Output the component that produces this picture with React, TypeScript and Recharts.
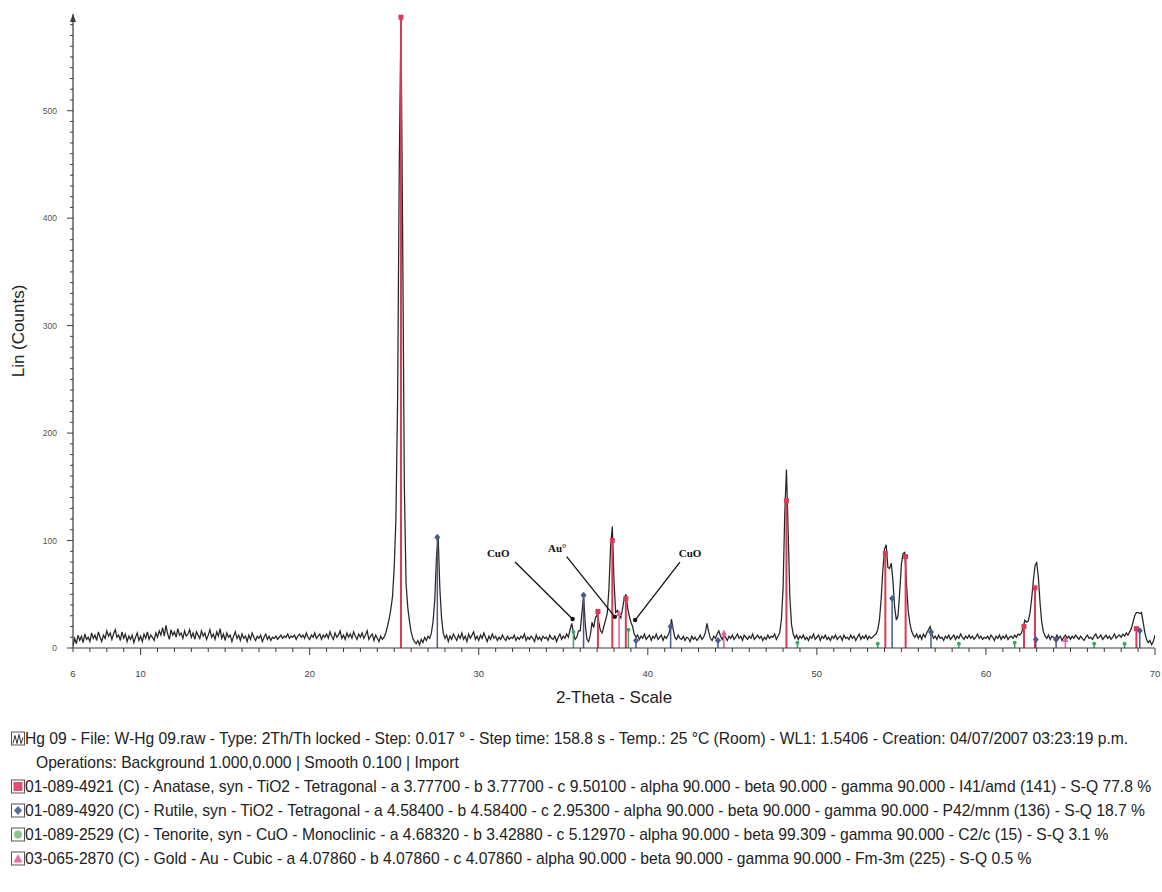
import React from 'react';
import { ComposedChart, Line, Scatter, XAxis, YAxis, ReferenceLine, ReferenceDot } from 'recharts';

// ---- measured scan (counts every 0.1 deg 2-theta) ----
const SCAN_STEP = 0.1;
const counts06to15 = [
  2, 9, 4, 12, 7, 11, 5, 13, 8, 10,
  6, 14, 9, 12, 7, 15, 10, 6, 12, 9,
  16, 11, 14, 8, 13, 17, 10, 12, 7, 15,
  9, 13, 6, 11, 8, 12, 5, 10, 14, 7,
  11, 6, 13, 9, 15, 8, 12, 10, 7, 14,
  10, 16, 12, 19, 11, 21, 13, 8, 17, 12,
  15, 10, 18, 12, 14, 9, 16, 11, 13, 17,
  10, 14, 8, 15, 12, 9, 16, 11, 14, 8,
  12, 17, 10, 13, 8, 15, 11, 18, 9, 13,
  7, 14, 10, 12, 6, 11, 15, 9, 12, 7,
];
const counts16to25 = [
  13, 9, 11, 6, 12, 8, 14, 10, 7, 11,
  9, 12, 6, 10, 13, 8, 11, 7, 10, 9,
  11, 8, 10, 12, 9, 11, 10, 13, 9, 11,
  10, 12, 8, 11, 13, 10, 12, 9, 14, 10,
  8, 12, 10, 14, 9, 11, 13, 8, 12, 10,
  13, 9, 15, 11, 8, 14, 10, 12, 16, 9,
  12, 8, 14, 10, 13, 9, 15, 11, 8, 13,
  10, 14, 9, 12, 16, 8, 11, 13, 7, 12,
  9, 6, 11, 8, 10, 14, 20, 27, 36, 48,
  75, 120, 230, 450, 587, 380, 150, 60, 38, 25,
];
const counts26to35 = [
  15, 9, 6, 4, 7, 3, 8, 5, 10, 7,
  11, 9, 14, 25, 45, 85, 103, 55, 28, 14,
  9, 12, 6, 11, 8, 13, 10, 7, 12, 9,
  14, 8, 11, 6, 13, 9, 12, 15, 8, 11,
  7, 12, 9, 14, 10, 6, 11, 8, 13, 9,
  11, 7, 10, 8, 12, 9, 7, 11, 8, 10,
  9, 12, 7, 10, 8, 11, 9, 13, 7, 10,
  8, 11, 9, 6, 12, 8, 10, 7, 11, 9,
  10, 7, 12, 9, 8, 11, 6, 10, 13, 8,
  11, 9, 13, 10, 17, 23, 14, 8, 10, 16,
];
const counts36to45 = [
  16, 32, 49, 22, 8, 6, 12, 24, 19, 28,
  31, 24, 16, 14, 20, 26, 32, 55, 95, 113,
  62, 33, 35, 31, 28, 36, 46, 50, 38, 30,
  24, 20, 13, 10, 12, 8, 11, 9, 13, 8,
  10, 12, 7, 11, 9, 13, 8, 10, 12, 7,
  11, 9, 12, 16, 27, 17, 10, 8, 12, 9,
  8, 11, 7, 10, 9, 6, 11, 8, 10, 7,
  9, 12, 8, 10, 14, 23, 15, 9, 7, 11,
  9, 13, 16, 11, 8, 12, 10, 7, 11, 9,
  12, 8, 10, 13, 9, 11, 7, 12, 10, 8,
];
const counts46to55 = [
  11, 9, 13, 8, 10, 12, 9, 11, 7, 10,
  8, 12, 9, 11, 10, 13, 8, 11, 14, 26,
  55, 125, 166, 110, 48, 22, 13, 9, 12, 8,
  11, 9, 12, 8, 10, 7, 11, 9, 13, 8,
  10, 12, 7, 11, 9, 12, 8, 10, 7, 11,
  9, 12, 8, 10, 11, 7, 12, 9, 10, 8,
  12, 9, 11, 7, 10, 13, 8, 11, 9, 12,
  8, 11, 9, 10, 12, 13, 17, 26, 45, 72,
  92, 96, 75, 74, 79, 62, 38, 26, 30, 52,
  78, 88, 89, 60, 35, 23, 16, 12, 10, 13,
];
const counts56to65 = [
  9, 12, 8, 13, 10, 14, 17, 20, 13, 9,
  11, 8, 12, 9, 10, 7, 11, 9, 12, 8,
  10, 12, 8, 11, 9, 13, 10, 8, 11, 9,
  12, 9, 11, 8, 10, 13, 9, 11, 8, 10,
  9, 11, 8, 12, 10, 7, 11, 9, 12, 8,
  11, 9, 12, 8, 10, 11, 9, 12, 10, 13,
  12, 14, 19, 26, 24, 25, 32, 45, 62, 76,
  80, 66, 42, 24, 15, 11, 9, 12, 8, 11,
  10, 8, 12, 9, 11, 7, 10, 12, 9, 11,
  8, 11, 9, 12, 10, 8, 11, 9, 7, 10,
];
const counts66to70 = [
  12, 9, 10, 8, 11, 13, 9, 10, 12, 8,
  10, 12, 9, 11, 8, 10, 13, 9, 11, 12,
  10, 13, 11, 14, 12, 15, 18, 24, 30, 33,
  33, 32, 33, 24, 14, 8, 5, 7, 3, 6,
  12,
];
const scanSegments = [
  { start: 6, counts: counts06to15 },
  { start: 16, counts: counts16to25 },
  { start: 26, counts: counts26to35 },
  { start: 36, counts: counts36to45 },
  { start: 46, counts: counts46to55 },
  { start: 56, counts: counts56to65 },
  { start: 66, counts: counts66to70 },
];
const scanData = scanSegments.flatMap((s) =>
  s.counts.map((c, i) => ({ theta: Math.round((s.start + i * SCAN_STEP) * 100) / 100, counts: c }))
);

// ---- reference patterns (stick positions and heights) ----
const anatasePeaks = [
  { theta: 25.4, counts: 587 }, { theta: 37.05, counts: 34 }, { theta: 37.9, counts: 100 },
  { theta: 38.7, counts: 46 }, { theta: 48.2, counts: 137 }, { theta: 54.05, counts: 88 },
  { theta: 55.25, counts: 85 }, { theta: 62.25, counts: 20 }, { theta: 62.9, counts: 56 },
  { theta: 68.9, counts: 18 },
];
const rutilePeaks = [
  { theta: 27.55, counts: 103 }, { theta: 36.2, counts: 49 }, { theta: 39.3, counts: 7 },
  { theta: 41.35, counts: 20 }, { theta: 44.15, counts: 7 }, { theta: 54.45, counts: 46 },
  { theta: 56.75, counts: 15 }, { theta: 62.95, counts: 8 }, { theta: 64.15, counts: 8 },
  { theta: 69.1, counts: 16 },
];
const tenoritePeaks = [
  { theta: 35.6, counts: 15 }, { theta: 38.85, counts: 17 }, { theta: 48.85, counts: 5 },
  { theta: 53.6, counts: 4 }, { theta: 58.4, counts: 4 }, { theta: 61.7, counts: 5 },
  { theta: 66.4, counts: 4 }, { theta: 68.2, counts: 4 },
];
const goldPeaks = [
  { theta: 38.3, counts: 32 }, { theta: 44.5, counts: 14 }, { theta: 64.7, counts: 8 },
];

// ---- annotations ----
const annotationLabels = [
  { text: 'CuO', theta: 31.15, counts: 88 },
  { text: 'Au°', theta: 34.64, counts: 93 },
  { text: 'CuO', theta: 42.5, counts: 88 },
];
const annotationArrows = [
  { from: { x: 32.15, y: 80 }, to: { x: 35.55, y: 27 } },
  { from: { x: 35.2, y: 85 }, to: { x: 38.05, y: 29 } },
  { from: { x: 41.9, y: 80 }, to: { x: 39.25, y: 26 } },
];

// ---- axes ----
const xTickLabels = [6, 10, 20, 30, 40, 50, 60, 70];
const xTicks = Array.from({ length: 65 }, (_, i) => 6 + i);
const yTickLabels = [0, 100, 200, 300, 400, 500];
const yTicks = Array.from({ length: 59 }, (_, i) => i * 10);

// ---- legend text ----
const legendTexts = [
  'Hg 09 - File: W-Hg 09.raw - Type: 2Th/Th locked - Step: 0.017 ° - Step time: 158.8 s - Temp.: 25 °C (Room) - WL1: 1.5406 - Creation: 04/07/2007 03:23:19 p.m.',
  'Operations: Background 1.000,0.000 | Smooth 0.100 | Import',
  '01-089-4921 (C) - Anatase, syn - TiO2 - Tetragonal - a 3.77700 - b 3.77700 - c 9.50100 - alpha 90.000 - beta 90.000 - gamma 90.000 - I41/amd (141) - S-Q 77.8 %',
  '01-089-4920 (C) - Rutile, syn - TiO2 - Tetragonal - a 4.58400 - b 4.58400 - c 2.95300 - alpha 90.000 - beta 90.000 - gamma 90.000 - P42/mnm (136) - S-Q 18.7 %',
  '01-089-2529 (C) - Tenorite, syn - CuO - Monoclinic - a 4.68320 - b 3.42880 - c 5.12970 - alpha 90.000 - beta 99.309 - gamma 90.000 - C2/c (15) - S-Q 3.1 %',
  '03-065-2870 (C) - Gold - Au - Cubic - a 4.07860 - b 4.07860 - c 4.07860 - alpha 90.000 - beta 90.000 - gamma 90.000 - Fm-3m (225) - S-Q 0.5 %',
];
const legendIcons = ['scan', 'none', 'anatase', 'rutile', 'tenorite', 'gold'];
const legendX = [25, 36, 25, 25, 25, 25];

const FONT = "'Liberation Sans', Arial, Helvetica, sans-serif";
const COLORS = {
  scan: '#262626',
  anatase: '#d93a55',
  rutile: '#4a5a90',
  tenorite: '#3fa66b',
  gold: '#e5609a',
  axis: '#3a3a3a',
};

const XTick = (props: any) => {
  const { x, y, payload } = props;
  const v = payload.value;
  const major = v % 10 === 0;
  return (
    <g>
      <line x1={x} y1={y} x2={x} y2={y + (major ? 7 : 4)} stroke={COLORS.axis} strokeWidth={1} />
      {xTickLabels.includes(v) && (
        <text x={x} y={y + 29} textAnchor="middle" fontSize={9.5} fill="#444" fontFamily={FONT}>
          {v}
        </text>
      )}
    </g>
  );
};

const YTick = (props: any) => {
  const { x, y, payload } = props;
  const v = payload.value;
  const major = v % 100 === 0;
  return (
    <g>
      <line x1={x} y1={y} x2={x - (major ? 6 : 3)} y2={y} stroke={COLORS.axis} strokeWidth={1} />
      {yTickLabels.includes(v) && (
        <text x={x - 16} y={y + 3} textAnchor="end" fontSize={8.5} fill="#555" fontFamily={FONT}>
          {v}
        </text>
      )}
    </g>
  );
};

const makeMarker = (kind: string) => (p: any) => {
  const { cx, cy } = p;
  if (cx == null || cy == null) return <g />;
  if (kind === 'anatase') {
    return <rect x={cx - 2.5} y={cy - 2.5} width={5} height={5} fill={COLORS.anatase} />;
  }
  if (kind === 'rutile') {
    return <path d={`M${cx},${cy - 3.5} L${cx + 3},${cy} L${cx},${cy + 3.5} L${cx - 3},${cy} Z`} fill={COLORS.rutile} />;
  }
  if (kind === 'tenorite') {
    return <circle cx={cx} cy={cy} r={2} fill={COLORS.tenorite} />;
  }
  return <path d={`M${cx},${cy - 3.5} L${cx + 3},${cy + 2.5} L${cx - 3},${cy + 2.5} Z`} fill={COLORS.gold} />;
};

const phases = [
  { key: 'anatase', peaks: anatasePeaks, color: COLORS.anatase, width: 2 },
  { key: 'rutile', peaks: rutilePeaks, color: COLORS.rutile, width: 1.5 },
  { key: 'tenorite', peaks: tenoritePeaks, color: COLORS.tenorite, width: 1.5 },
  { key: 'gold', peaks: goldPeaks, color: COLORS.gold, width: 1.5 },
];

const LegendIcon = ({ kind, y }: { kind: string; y: number }) => {
  if (kind === 'none') return null;
  const x0 = 11;
  const s = 13;
  const y0 = y - s / 2;
  const frame = <rect x={x0 + 0.5} y={y0 + 0.5} width={s} height={s} fill="#fff" stroke="#555" strokeWidth={1} />;
  let inner: any = null;
  const cx = x0 + 0.5 + s / 2;
  const cy = y0 + 0.5 + s / 2;
  if (kind === 'scan') {
    inner = (
      <polyline
        points={`${x0 + 2},${y0 + 12} ${x0 + 4},${y0 + 4} ${x0 + 6},${y0 + 12} ${x0 + 8},${y0 + 3} ${x0 + 10},${y0 + 12} ${x0 + 12},${y0 + 6}`}
        fill="none"
        stroke="#333"
        strokeWidth={1}
      />
    );
  } else if (kind === 'anatase') {
    inner = <rect x={x0 + 2.5} y={y0 + 2.5} width={9} height={9} fill="#e0506e" />;
  } else if (kind === 'rutile') {
    inner = <path d={`M${cx},${cy - 4.5} L${cx + 4},${cy} L${cx},${cy + 4.5} L${cx - 4},${cy} Z`} fill="#5b6a96" />;
  } else if (kind === 'tenorite') {
    inner = <circle cx={cx} cy={cy} r={4} fill="#8cc48c" />;
  } else if (kind === 'gold') {
    inner = <path d={`M${cx},${cy - 4.5} L${cx + 4.5},${cy + 4} L${cx - 4.5},${cy + 4} Z`} fill="#e8709c" />;
  }
  return (
    <g>
      {frame}
      {inner}
    </g>
  );
};

export default function App() {
  return (
    <div style={{ position: 'absolute', left: 0, top: 0, width: 1162, height: 892, background: '#fff' }}>
      <ComposedChart width={1162} height={720} data={scanData} margin={{ top: 14, right: 7, bottom: 0, left: 0 }}>
        <XAxis
          type="number"
          dataKey="theta"
          domain={[6, 70]}
          ticks={xTicks}
          interval={0}
          tickSize={0}
          tickMargin={0}
          tickLine={false}
          height={72}
          allowDataOverflow
          axisLine={{ stroke: COLORS.axis, strokeWidth: 1.2 }}
          tick={(p: any) => <XTick {...p} />}
          label={{ value: '2-Theta - Scale', position: 'insideTop', offset: 43, fontSize: 17, fill: '#222', fontFamily: FONT }}
        />
        <YAxis
          type="number"
          domain={[0, 590]}
          ticks={yTicks}
          interval={0}
          tickSize={0}
          tickMargin={0}
          tickLine={false}
          width={73}
          allowDataOverflow
          axisLine={{ stroke: COLORS.axis, strokeWidth: 1.2 }}
          tick={(p: any) => <YTick {...p} />}
          label={{ value: 'Lin (Counts)', angle: -90, position: 'insideLeft', offset: 18, fontSize: 17, fill: '#222', fontFamily: FONT, style: { textAnchor: 'middle' } }}
        />
        <Line
          type="linear"
          dataKey="counts"
          stroke={COLORS.scan}
          strokeWidth={1.25}
          dot={false}
          activeDot={false}
          isAnimationActive={false}
        />
        {phases.flatMap((ph) =>
          ph.peaks.map((pk, i) => (
            <ReferenceLine
              key={`${ph.key}-${i}`}
              segment={[{ x: pk.theta, y: 0 }, { x: pk.theta, y: pk.counts }]}
              stroke={ph.color}
              strokeWidth={ph.width}
              ifOverflow="visible"
            />
          ))
        )}
        {phases.map((ph) => (
          <Scatter
            key={`sc-${ph.key}`}
            data={ph.peaks}
            dataKey="counts"
            shape={makeMarker(ph.key)}
            isAnimationActive={false}
          />
        ))}
        {annotationArrows.map((a, i) => (
          <ReferenceLine
            key={`arrow-${i}`}
            segment={[a.from, a.to]}
            stroke="#111"
            strokeWidth={1.3}
            ifOverflow="visible"
          />
        ))}
        {annotationArrows.map((a, i) => (
          <ReferenceDot key={`head-${i}`} x={a.to.x} y={a.to.y} r={2.2} fill="#111" stroke="none" ifOverflow="visible" />
        ))}
        {annotationLabels.map((l, i) => (
          <ReferenceDot
            key={`lab-${i}`}
            x={l.theta}
            y={l.counts}
            ifOverflow="visible"
            shape={(p: any) => (
              <text
                x={p.cx}
                y={p.cy + 4}
                textAnchor="middle"
                fontSize={11}
                fontWeight="bold"
                fontFamily="'Liberation Serif', 'Times New Roman', serif"
                fill="#111"
              >
                {l.text}
              </text>
            )}
          />
        ))}
        <ReferenceDot
          x={6}
          y={590}
          ifOverflow="visible"
          shape={(p: any) => (
            <path d={`M${p.cx - 3},${p.cy + 8} L${p.cx},${p.cy} L${p.cx + 3},${p.cy + 8} Z`} fill={COLORS.axis} />
          )}
        />
      </ComposedChart>
      <svg style={{ position: 'absolute', left: 0, top: 720 }} width={1162} height={172}>
        {legendTexts.map((t, i) => {
          const cy = 18 + i * 24;
          return (
            <g key={i}>
              <LegendIcon kind={legendIcons[i]} y={cy} />
              <g transform={`translate(${legendX[i]}, ${cy + 5.5}) scale(0.978, 1)`}>
                <text x={0} y={0} fontSize={16} fontFamily={FONT} fill="#222">
                  {t}
                </text>
              </g>
            </g>
          );
        })}
      </svg>
    </div>
  );
}
